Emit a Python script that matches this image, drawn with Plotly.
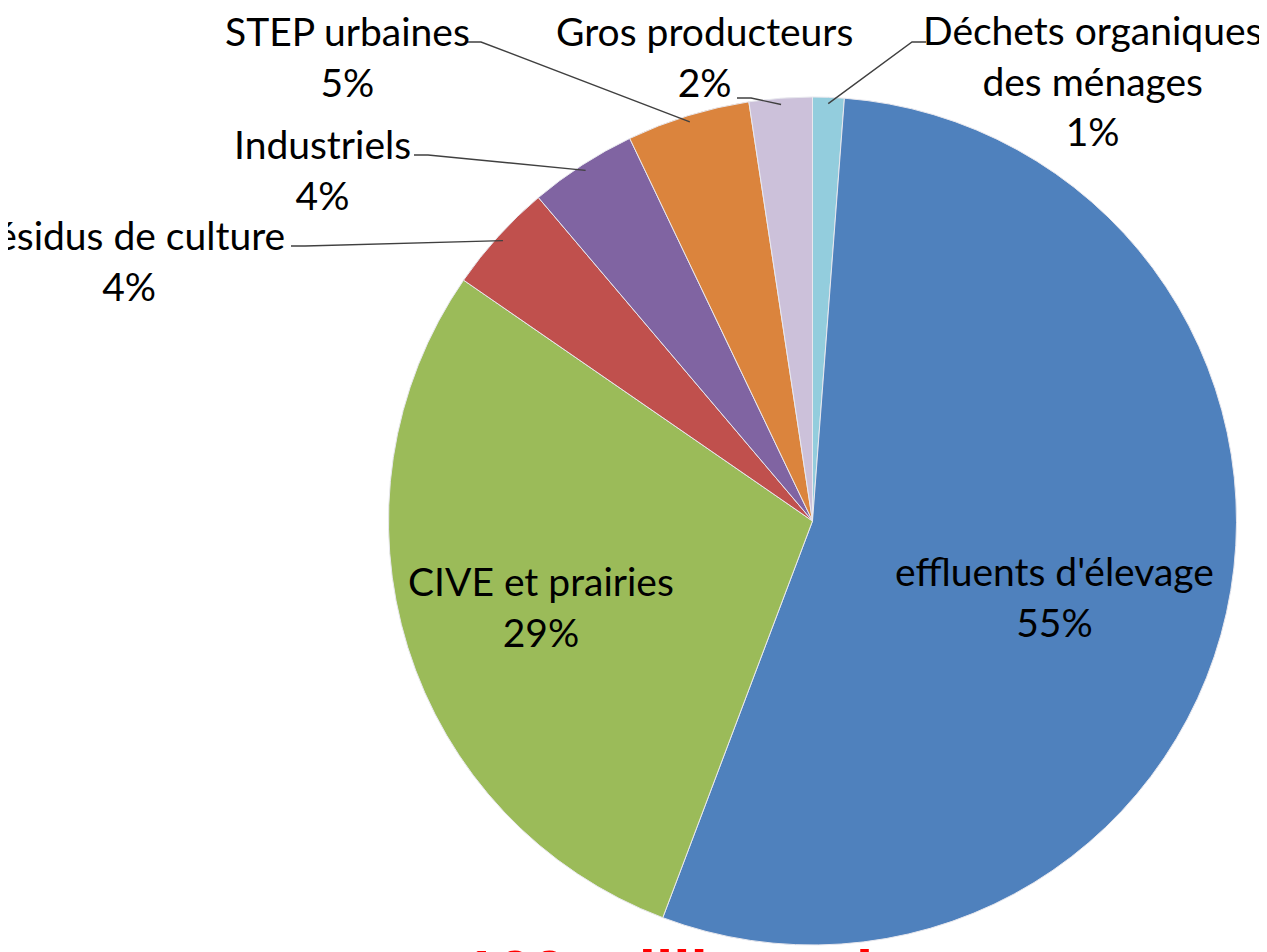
import math
import plotly.graph_objects as go

# ---- data ----
labels = ["Déchets organiques<br>des ménages", "effluents d'élevage", "CIVE et prairies",
          "Résidus de culture", "Industriels", "STEP urbaines", "Gros producteurs"]
values = [1.2, 54.6, 28.9, 4.2, 4.1, 4.7, 2.4]
colors = ["#93CDDD", "#4F81BD", "#9BBB59", "#C0504D", "#8064A2", "#DB843D", "#CCC1DA"]
footer_text = "100 millions de tonnes"

# ---- layout geometry (screen pixels; page body has an 8px margin) ----
OFF = 8
W, H = 1267, 952
pie_left, pie_right, pie_top, pie_bottom = 388, 1237, 97, 945
cx, cy = (pie_left + pie_right) / 2, (pie_top + pie_bottom) / 2
R = min(pie_right - pie_left, pie_bottom - pie_top) / 2

def px(x):
    return (x - OFF) / W

def py(y):
    return 1 - (y - OFF) / H

FONT = "Lato"
FS = 39

fig = go.Figure(go.Pie(
    labels=labels, values=values, sort=False, direction="clockwise", rotation=0,
    marker=dict(colors=colors, line=dict(color="#E8E8EE", width=1)),
    textinfo="none", hoverinfo="label+percent", showlegend=False,
    domain=dict(x=[px(pie_left), px(pie_right)], y=[py(pie_bottom), py(pie_top)]),
))

total = sum(values)
pcts = [f"{round(v / total * 100):d}%" for v in values]

# label text centres (screen pixels) and leader-line start ; None = inside label
label_pos = [
    (1092, 81, (926, 42)),
    (1054, 596, None),
    (541, 606, None),
    (129, 261, (291, 246)),
    (322, 169, (414, 155)),
    (347, 56, (467, 42)),
    (704, 56, (737, 98)),
]

annotations = []
shapes = []
cum = 0.0
for lab, v, pct, (lx, ly, lead) in zip(labels, values, pcts, label_pos):
    mid = (cum + v / 2) / total * 2 * math.pi
    cum += v
    annotations.append(dict(
        x=px(lx), y=py(ly), xref="paper", yref="paper", xanchor="center", yanchor="middle",
        text=f"{lab}<br>{pct}", showarrow=False, align="center",
        font=dict(family=FONT, size=FS, color="#000000"),
    ))
    if lead is not None:
        ex = cx + 0.985 * R * math.sin(mid)
        ey = cy - 0.985 * R * math.cos(mid)
        sx, sy = lead
        hx = sx + (14 if ex > sx else -14)
        path = f"M {px(sx)} {py(sy)} L {px(hx)} {py(sy)} L {px(ex)} {py(ey)}"
        shapes.append(dict(type="path", path=path, xref="paper", yref="paper",
                           line=dict(color="#404040", width=1.4)))

annotations.append(dict(
    x=px(461), y=py(935), xref="paper", yref="paper", xanchor="left", yanchor="top",
    text=f"<b>{footer_text}</b>", showarrow=False,
    font=dict(family="Liberation Sans, Arial", size=62, color="#FF0000"),
))

fig.update_layout(
    width=W, height=H, margin=dict(l=0, r=0, t=0, b=0),
    paper_bgcolor="white", plot_bgcolor="white",
    annotations=annotations, shapes=shapes,
)

fig.write_html("out.html")
